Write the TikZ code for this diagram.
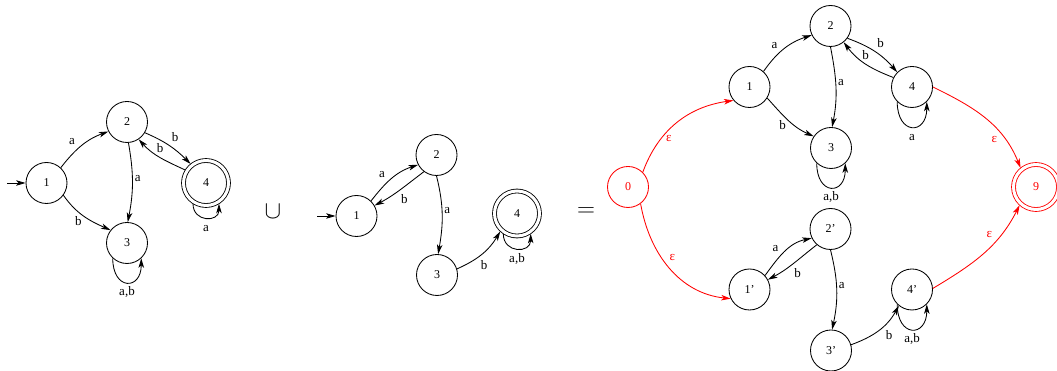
\documentclass[tikz,border=0pt]{standalone}
\usepackage{fontspec}
\setmainfont{Liberation Serif}
\usetikzlibrary{arrows.meta}

\begin{document}
\begin{tikzpicture}[x=1pt, y=1pt, line width=0.85pt,
    every node/.style={font=\fontsize{12}{14}\selectfont},
    state/.style={draw, circle, minimum size=41pt, inner sep=0pt},
    accept/.style={state, minimum size=45pt, double, double distance=3pt, outer sep=2pt},
    tr/.style={-{Stealth[length=9.5pt, width=5.5pt, inset=2.5pt]}},
    lbl/.style={inner sep=2pt, text height=7pt, text depth=2pt, font=\fontsize{13}{15}\selectfont},
    looplbl/.style={lbl, below=4pt},
    selfloop/.style={out=-90, in=-90, looseness=2.9},
    selfloopacc/.style={out=-90, in=-90, looseness=1.85},
    epsred/.style={draw=red, text=red},
    bigsym/.style={font=\fontsize{25}{30}\selectfont}]
  \useasboundingbox (0,0) rectangle (1057,371);

  % first automaton
  \node[state]  (L1) at (46.5,188) {1};
  \node[state]  (L2) at (127,249)  {2};
  \node[state]  (L3) at (127,128)  {3};
  \node[accept] (L4) at (206,188)  {4};
  \coordinate (L0) at (7,188);
  \draw[tr] (L0) -- (L1);
  \draw[tr] (L1.47) to[out=52, in=200] node[lbl, pos=0.4, above left] {a} (L2.207);
  \draw[tr] (L1.-36) to[out=-55, in=156] node[lbl, pos=0.5, below left] {b} (L3.142);
  \draw[tr] (L2.-86) to[out=-80, in=79] node[lbl, pos=0.45, right] {a} (L3.88);
  \draw[tr] (L2.-31) to[out=-23, in=135] node[lbl, above right] {b} (L4.129);
  \draw[tr] (L4.148) to[out=155, in=-48] node[lbl, above] {b} (L2.-56);
  \draw[tr] (L3.-133) to[selfloop] node[looplbl] {a,b} (L3.-47);
  \draw[tr] (L4.-122) to[selfloopacc] node[looplbl] {a} (L4.-58);

  \node[bigsym] (union) at (273,159) {$\cup$};

  % second automaton
  \node[state]  (M1) at (356.5,155) {1};
  \node[state]  (M2) at (436.5,216) {2};
  \node[state]  (M3) at (437,96)    {3};
  \node[accept] (M4) at (517,157.5) {4};
  \coordinate (M0) at (317,155);
  \draw[tr] (M0) -- (M1);
  \draw[tr] (M1.46) to[out=52, in=198] node[lbl, pos=0.4, above left] {a} (M2.208);
  \draw[tr] (M2.233) to[out=217, in=28] node[lbl, pos=0.4, below=8pt] {b} (M1.30);
  \draw[tr] (M2.-90) to[out=-76, in=80] node[lbl, pos=0.45, right] {a} (M3.87);
  \draw[tr] (M3.17) to[out=24, in=239] node[lbl, pos=0.55, below=8pt] {b} (M4.227);
  \draw[tr] (M4.-124) to[selfloopacc] node[looplbl] {a,b} (M4.-56);

  \node[bigsym] (equal) at (586,158.5) {$=$};

  % union automaton
  \node[state, epsred]  (R0) at (628,184)    {0};
  \node[state]          (R1) at (749.5,284)  {1};
  \node[state]          (R2) at (830.5,345)  {2};
  \node[state]          (R3) at (831,223)    {3};
  \node[state]          (R4) at (912,284)    {4};
  \node[accept, epsred] (R9) at (1036,184)   {9};
  \node[state]          (S1) at (749.5,81.5) {1'};
  \node[state]          (S2) at (830.5,142)  {2'};
  \node[state]          (S3) at (831,20.5)   {3'};
  \node[state]          (S4) at (912,81.5)   {4'};

  \draw[tr, red] (R0.45) to[out=70, in=188] node[lbl, pos=0.3, right=3pt] {ε} (R1.220);
  \draw[tr, red] (R0.-53) to[out=-80, in=174] node[lbl, pos=0.47, above right] {ε} (S1.206);
  \draw[tr, red] (R4.0) to[out=-26, in=112] node[lbl, pos=0.6, below=6pt] {ε} (R9.129);
  \draw[tr, red] (S4.3) to[out=31, in=243] node[lbl, pos=0.64, above left] {ε} (R9.228);

  \draw[tr] (R1.48) to[out=55, in=198] node[lbl, pos=0.4, above left] {a} (R2.206);
  \draw[tr] (R1.-32) to[out=-48, in=156] node[lbl, pos=0.5, below left] {b} (R3.146);
  \draw[tr] (R2.-90) to[out=-79, in=79] node[lbl, pos=0.45, right] {a} (R3.87);
  \draw[tr] (R2.-36) to[out=-20, in=131] node[lbl, above right] {b} (R4.135);
  \draw[tr] (R4.153) to[out=159, in=-53] node[lbl, above] {b} (R2.-51);
  \draw[tr] (R3.-133) to[selfloop] node[looplbl] {a,b} (R3.-47);
  \draw[tr] (R4.-135) to[selfloop] node[looplbl] {a} (R4.-45);

  \draw[tr] (S1.42) to[out=54, in=192] node[lbl, pos=0.4, above left] {a} (S2.206);
  \draw[tr] (S2.229) to[out=218, in=28] node[lbl, pos=0.4, below=8pt] {b} (S1.28);
  \draw[tr] (S2.-90) to[out=-76, in=78] node[lbl, pos=0.45, right] {a} (S3.87);
  \draw[tr] (S3.16) to[out=20, in=241] node[lbl, pos=0.55, below right=2pt] {b} (S4.231);
  \draw[tr] (S4.-135) to[selfloop] node[looplbl] {a,b} (S4.-45);
\end{tikzpicture}
\end{document}
